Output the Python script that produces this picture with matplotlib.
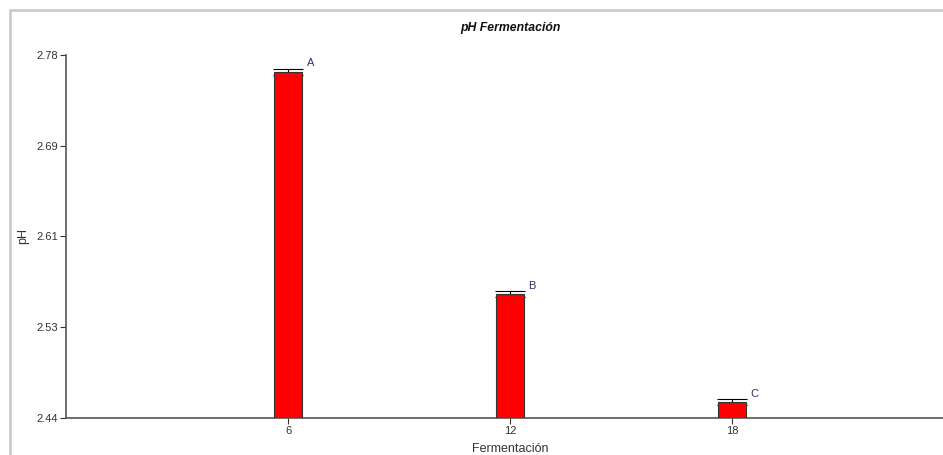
import numpy as np
import matplotlib.pyplot as plt
from matplotlib.patches import Rectangle

plt.rcParams['font.family'] = ['Liberation Sans', 'DejaVu Sans']

# pH por tiempo de fermentación
tiempos = [6, 12, 18]
ph_medio = [2.7638, 2.5560, 2.4550]
ph_error = [0.0028, 0.0026, 0.0025]
grupos = ['A', 'B', 'C']

y_ticks = list(np.linspace(2.44, 2.78, 5))
y_tick_labels = ['2.44', '2.53', '2.61', '2.69', '2.78']

W, H = 943, 455
fig = plt.figure(figsize=(W / 100, H / 100), dpi=100)
fig.patch.set_facecolor('white')

# marco gris claro alrededor del gráfico
fig.patches.append(Rectangle((10 / W, -0.1), 1.2, 1.1 - 10 / H,
                             transform=fig.transFigure, fill=False,
                             edgecolor='#cccccc', linewidth=2))

left, right = 66 / W, 954 / W
bottom, top = 1 - 418 / H, 1 - 54.7 / H
ax = fig.add_axes([left, bottom, right - left, top - bottom])
ax.set_facecolor('none')

# barras encima de las barras de error: solo asoma la parte superior
ax.bar(tiempos, [v - 2.44 for v in ph_medio], bottom=2.44, width=0.78,
       color='#ff0000', edgecolor='#333333', linewidth=0.8, zorder=3)
ax.errorbar(tiempos, ph_medio, yerr=ph_error, fmt='none', ecolor='black',
            elinewidth=0.8, capsize=10.5, capthick=0.8, zorder=2)

for x, v, e, g in zip(tiempos, ph_medio, ph_error, grupos):
    ax.text(x + 0.5, v + e + 0.0005, g, fontsize=8, color='#2e2e66',
            ha='left', va='bottom')

ax.set_xlim(0, 24)
ax.set_ylim(2.44, 2.78)
ax.set_xticks(tiempos)
ax.set_xticklabels([str(t) for t in tiempos])
ax.set_yticks(y_ticks)
ax.set_yticklabels(y_tick_labels)

for s in ['top', 'right']:
    ax.spines[s].set_visible(False)
for s in ['left', 'bottom']:
    ax.spines[s].set_color('#555555')
    ax.spines[s].set_linewidth(1.2)

ax.tick_params(axis='both', length=4, width=0.8, color='#333333',
               labelsize=8, labelcolor='#333333', pad=1.5)

ax.set_xlabel('Fermentación', fontsize=9, color='#333333', labelpad=5)
ax.set_ylabel('pH', fontsize=9, color='#333333')
ax.yaxis.set_label_coords((29 - 66) / 888, 0.5)
fig.text((left + right) / 2, 1 - 28 / H, 'pH Fermentación', fontsize=8.8,
         fontweight='bold', fontstyle='italic', ha='center', va='center',
         color='#111111')

fig.savefig('out.png', dpi=100)
